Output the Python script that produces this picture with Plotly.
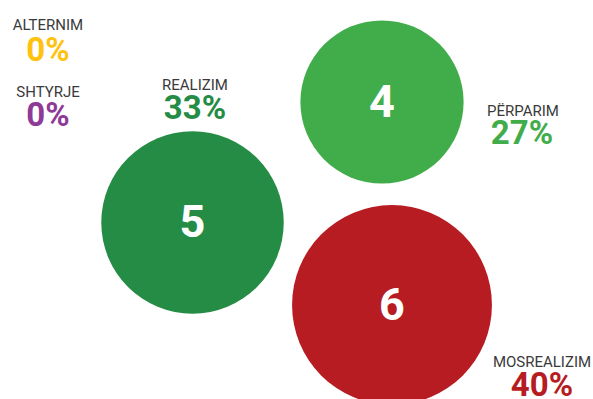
import plotly.graph_objects as go

# ---- data ----
categories = ["ALTERNIM", "SHTYRJE", "REALIZIM", "PËRPARIM", "MOSREALIZIM"]
percentages = [0, 0, 33, 27, 40]
counts = [0, 0, 5, 4, 6]

# ---- layout / style (positions in pixel space of a 593x399 canvas) ----
colors = ["#FFC20E", "#8E3A96", "#258C45", "#41AD4A", "#B71C22"]
label_x = [48, 48, 195, 523, 542]
label_y = [26, 93.5, 86.5, 112, 363.5]
pct_x = [48, 48, 195, 522, 542]
pct_y = [52.5, 118, 111, 136, 388]
bubble_pos = {"REALIZIM": (192.5, 222.5), "PËRPARIM": (382, 102), "MOSREALIZIM": (392, 305)}
num_dy = 3.5

FONT = "Roboto, Liberation Sans, sans-serif"

fig = go.Figure()

# bubbles (area proportional to count)
bx, by, bs, bc, bt = [], [], [], [], []
for cat, cnt, col in zip(categories, counts, colors):
    if cat in bubble_pos and cnt > 0:
        x, y = bubble_pos[cat]
        bx.append(x); by.append(y); bs.append(cnt); bc.append(col); bt.append(str(cnt))

fig.add_trace(go.Scatter(
    x=bx, y=by, mode="markers",
    marker=dict(size=bs, sizemode="area", sizeref=2 / (81.6 ** 2), color=bc,
                line=dict(width=0), opacity=1),
    hoverinfo="skip", showlegend=False, cliponaxis=False,
))

# counts inside bubbles
fig.add_trace(go.Scatter(
    x=bx, y=[v + num_dy for v in by], mode="text", text=bt, textposition="middle center",
    textfont=dict(family=FONT, size=45, color="white", weight="bold"),
    hoverinfo="skip", showlegend=False, cliponaxis=False,
))

# category labels
fig.add_trace(go.Scatter(
    x=label_x, y=label_y,
    mode="text", text=categories, textposition="middle center",
    textfont=dict(family=FONT, size=15, color="#3a3a3a"),
    hoverinfo="skip", showlegend=False, cliponaxis=False,
))

# percentages
fig.add_trace(go.Scatter(
    x=pct_x, y=pct_y,
    mode="text", text=[f"{v}%" for v in percentages], textposition="middle center",
    textfont=dict(family=FONT, size=33, color=colors, weight="bold"),
    hoverinfo="skip", showlegend=False, cliponaxis=False,
))

fig.update_layout(
    width=593, height=399,
    margin=dict(l=0, r=0, t=0, b=0),
    paper_bgcolor="white", plot_bgcolor="white",
    xaxis=dict(range=[0, 593], visible=False, fixedrange=True),
    yaxis=dict(range=[399, 0], visible=False, fixedrange=True),
    hovermode=False,
)

fig.write_html(
    "out.html",
    config={"displayModeBar": False, "staticPlot": True},
    post_script="document.body.style.margin='0';document.body.style.overflow='hidden';",
)
